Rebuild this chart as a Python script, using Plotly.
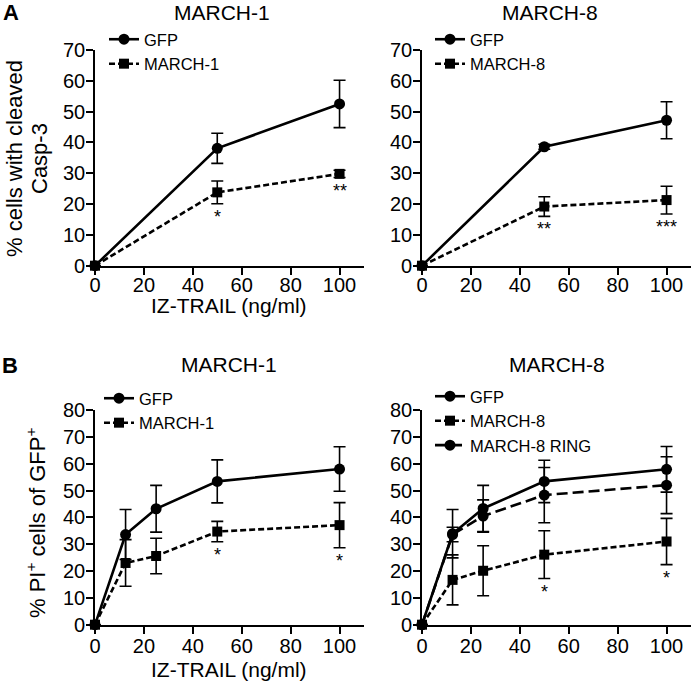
import plotly.graph_objects as go

# ---------------- data ----------------
dose_a = [0, 50, 100]
a1_gfp = [0, 38.1, 52.5]
a1_gfp_err = [0, 4.9, 7.7]
a1_march1 = [0, 23.8, 29.8]
a1_march1_err = [0, 3.7, 1.2]
a1_stars = ["", "*", "**"]

a8_gfp = [0, 38.6, 47.2]
a8_gfp_err = [0, 0.8, 6.0]
a8_march8 = [0, 19.2, 21.3]
a8_march8_err = [0, 3.2, 4.5]
a8_stars = ["", "**", "***"]

dose_b = [0, 12.5, 25, 50, 100]
b1_gfp = [0, 33.6, 43.2, 53.4, 58.0]
b1_gfp_err = [0, 9.3, 8.7, 8.0, 8.3]
b1_march1 = [0, 23.0, 25.6, 34.7, 37.1]
b1_march1_err = [0, 8.7, 6.6, 3.8, 8.4]
b1_stars = ["", "", "", "*", "*"]

b8_gfp = [0, 33.9, 43.3, 53.4, 57.9]
b8_gfp_err = [0, 9.0, 8.6, 7.9, 8.5]
b8_march8 = [0, 16.7, 20.1, 26.1, 31.0]
b8_march8_err = [0, 9.3, 9.3, 8.9, 8.6]
b8_ring = [0, 33.6, 40.5, 48.3, 52.0]
b8_ring_err = [0, 2.7, 6.0, 10.3, 10.6]
b8_stars = ["", "", "", "*", "*"]

x_ticks = [0, 20, 40, 60, 80, 100]
ya_ticks = [0, 10, 20, 30, 40, 50, 60, 70]
yb_ticks = [0, 10, 20, 30, 40, 50, 60, 70, 80]

FONT = "Liberation Sans, Arial, sans-serif"
W, H = 693, 686

fig = go.Figure()

def add_series(x, y, err, name, xa, ya, leg, symbol, dash):
    fig.add_trace(go.Scatter(
        x=x, y=y, name=name, mode="lines+markers",
        xaxis=xa, yaxis=ya, legend=leg,
        line=dict(color="black", width=2.6, dash=dash),
        marker=dict(symbol=symbol, size=10 if symbol == "square" else 11, color="black"),
        error_y=dict(type="data", array=err, visible=True, color="black",
                     thickness=1.6, width=6),
        cliponaxis=False,
    ))

SHORT = "6px,3px"
LONG = "11px,5px"

add_series(dose_a, a1_gfp, a1_gfp_err, "GFP", "x", "y", "legend", "circle", "solid")
add_series(dose_a, a1_march1, a1_march1_err, "MARCH-1", "x", "y", "legend", "square", SHORT)
add_series(dose_a, a8_gfp, a8_gfp_err, "GFP", "x2", "y2", "legend2", "circle", "solid")
add_series(dose_a, a8_march8, a8_march8_err, "MARCH-8", "x2", "y2", "legend2", "square", SHORT)
add_series(dose_b, b1_gfp, b1_gfp_err, "GFP", "x3", "y3", "legend3", "circle", "solid")
add_series(dose_b, b1_march1, b1_march1_err, "MARCH-1", "x3", "y3", "legend3", "square", SHORT)
add_series(dose_b, b8_gfp, b8_gfp_err, "GFP", "x4", "y4", "legend4", "circle", "solid")
add_series(dose_b, b8_march8, b8_march8_err, "MARCH-8", "x4", "y4", "legend4", "square", SHORT)
add_series(dose_b, b8_ring, b8_ring_err, "MARCH-8 RING", "x4", "y4", "legend4", "circle", LONG)

annotations = []
def add_stars(x, y, err, stars, xr, yr):
    for xi, yi, ei, s in zip(x, y, err, stars):
        if s:
            annotations.append(dict(x=xi, y=yi - ei, xref=xr, yref=yr, text=s,
                                    showarrow=False, yanchor="top", yshift=-1,
                                    font=dict(family=FONT, size=18, color="black")))

add_stars(dose_a, a1_march1, a1_march1_err, a1_stars, "x", "y")
add_stars(dose_a, a8_march8, a8_march8_err, a8_stars, "x2", "y2")
add_stars(dose_b, b1_march1, b1_march1_err, b1_stars, "x3", "y3")
add_stars(dose_b, b8_march8, b8_march8_err, b8_stars, "x4", "y4")

def px_x(p):
    return p / W
def px_y(p):
    return 1 - p / H

def label(txt, cx, cy, size, angle=0):
    annotations.append(dict(text=txt, x=px_x(cx), y=px_y(cy), xref="paper", yref="paper",
                            showarrow=False, xanchor="center", yanchor="middle",
                            textangle=angle,
                            font=dict(family=FONT, size=size, color="black")))

# panel titles
label("MARCH-1", 222, 12, 21)
label("MARCH-8", 550, 12, 21)
label("MARCH-1", 229, 364, 21)
label("MARCH-8", 557, 364, 21)
# panel letters
label("<b>A</b>", 11, 12, 22)
label("<b>B</b>", 10, 365, 22)
# axis titles
label("% cells with cleaved", 14, 159, 22, -90)
label("Casp-3", 39, 159, 22, -90)
label("% PI<sup>+</sup> cells of GFP<sup>+</sup>", 36, 523, 22, -90)
label("IZ-TRAIL (ng/ml)", 229, 305, 21)
label("IZ-TRAIL (ng/ml)", 229, 669, 21)

xd_left = [px_x(95), px_x(364)]
xd_right = [px_x(422), px_x(691)]
yd_top = [px_y(265.7), px_y(50)]
yd_bot = [px_y(624.7), px_y(410)]

axis_common = dict(showgrid=False, zeroline=False, showline=True, linecolor="black",
                   linewidth=1.6, ticks="outside", ticklen=7, tickwidth=1.6,
                   tickcolor="black", automargin=False,
                   tickfont=dict(family=FONT, size=20, color="black"))

def xaxis(domain, anchor, standoff):
    return dict(axis_common, domain=domain, anchor=anchor, range=[0, 110],
                tickvals=x_ticks, ticktext=[str(v) for v in x_ticks],
                ticklabelstandoff=standoff)

def yaxis(domain, anchor, rng, ticks):
    return dict(axis_common, domain=domain, anchor=anchor, range=rng,
                tickvals=ticks, ticktext=[str(v) for v in ticks],
                ticklabelstandoff=-3)

legend_common = dict(bgcolor="rgba(0,0,0,0)", borderwidth=0, xanchor="left", yanchor="top",
                     font=dict(family=FONT, size=16.5, color="black"), tracegroupgap=0,
                     itemwidth=30, traceorder="normal")

fig.update_layout(
    template="none",
    width=W, height=H, margin=dict(l=0, r=0, t=0, b=0, pad=0),
    paper_bgcolor="white", plot_bgcolor="white",
    font=dict(family=FONT, color="black"),
    xaxis=xaxis(xd_left, "y", -7),
    yaxis=yaxis(yd_top, "x", [0, 70], ya_ticks),
    xaxis2=xaxis(xd_right, "y2", -7),
    yaxis2=yaxis(yd_top, "x2", [0, 70], ya_ticks),
    xaxis3=xaxis(xd_left, "y3", -5),
    yaxis3=yaxis(yd_bot, "x3", [0, 80], yb_ticks),
    xaxis4=xaxis(xd_right, "y4", -5),
    yaxis4=yaxis(yd_bot, "x4", [0, 80], yb_ticks),
    legend=dict(legend_common, x=px_x(104), y=px_y(22)),
    legend2=dict(legend_common, x=px_x(430), y=px_y(22)),
    legend3=dict(legend_common, x=px_x(99), y=px_y(381)),
    legend4=dict(legend_common, x=px_x(430), y=px_y(379)),
    annotations=annotations,
    showlegend=True,
)

fig.write_html("out.html", config={"displayModeBar": False},
               post_script="document.body.style.margin='0';")
